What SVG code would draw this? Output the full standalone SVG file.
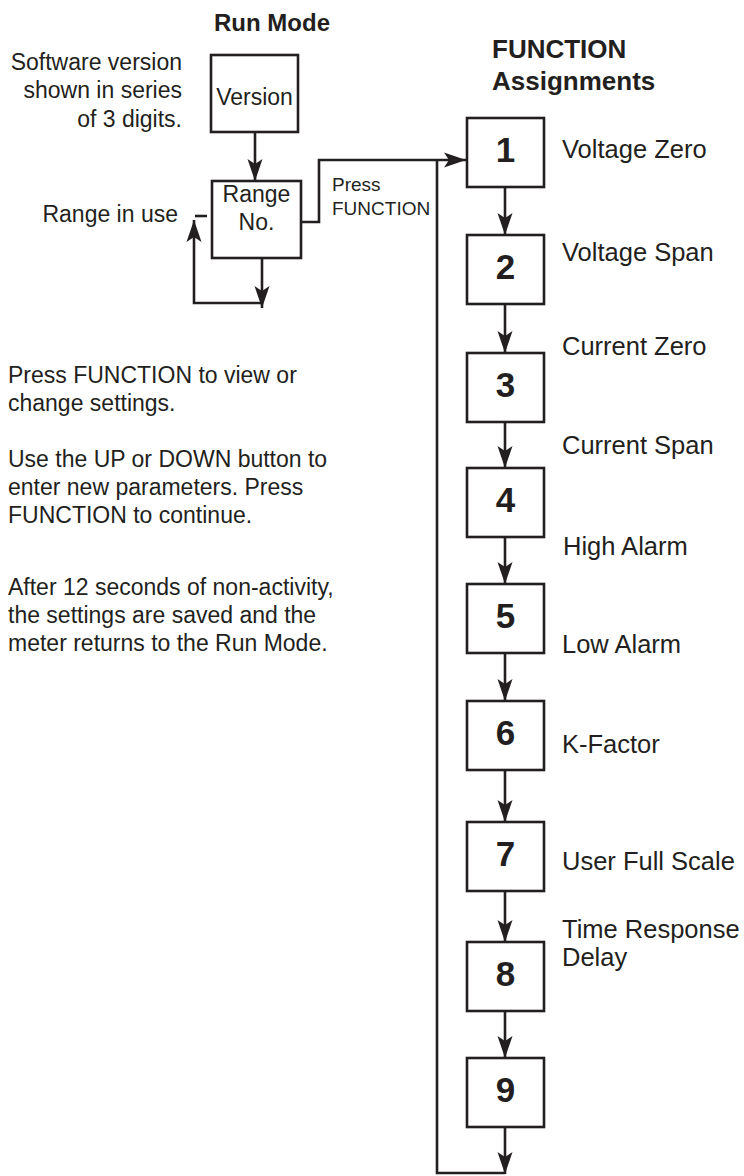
<svg xmlns="http://www.w3.org/2000/svg" width="744" height="1176" viewBox="0 0 744 1176">
<style>
text{font-family:"Liberation Sans",Arial,Helvetica,sans-serif;fill:#231f20}
.t{font-size:23px}
.lab{font-size:25.5px}
.sm{font-size:19px}
.hd{font-size:24px;font-weight:bold}
.hd2{font-size:26px;font-weight:bold}
.num{font-size:35px;font-weight:bold;text-anchor:middle}
.box{fill:#fff;stroke:#231f20;stroke-width:2.6}
.ln{fill:none;stroke:#231f20;stroke-width:2.6}
</style>
<defs>
<marker id="ah" markerUnits="userSpaceOnUse" markerWidth="24" markerHeight="18" viewBox="-22 -9 24 18" refX="0" refY="0" orient="auto">
<path d="M0,0 L-22,-7.5 L-17,0 L-22,7.5 Z" fill="#231f20"/>
</marker>
</defs>
<g id="headers">
<text class="hd" x="214" y="31">Run Mode</text>
<text class="hd2" x="492" y="58">FUNCTION</text>
<text class="hd2" x="492" y="90">Assignments</text>
</g>
<g id="notes" class="t">
<text x="182" y="70" text-anchor="end">Software version</text>
<text x="182" y="98" text-anchor="end">shown in series</text>
<text x="182" y="127" text-anchor="end">of 3 digits.</text>
<text x="178" y="222" text-anchor="end">Range in use</text>
<text x="8" y="383">Press FUNCTION to view or</text>
<text x="8" y="411">change settings.</text>
<text x="8" y="467">Use the UP or DOWN button to</text>
<text x="8" y="495">enter new parameters. Press</text>
<text x="8" y="523">FUNCTION to continue.</text>
<text x="8" y="595">After 12 seconds of non-activity,</text>
<text x="8" y="623">the settings are saved and the</text>
<text x="8" y="651">meter returns to the Run Mode.</text>
</g>
<g id="press-label" class="sm">
<text x="332" y="191">Press</text>
<text x="332" y="215">FUNCTION</text>
</g>
<g id="version">
<rect class="box" x="211" y="55" width="87" height="77"/>
<text class="t" x="254.5" y="105" text-anchor="middle">Version</text>
</g>
<g id="range">
<rect class="box" x="212" y="181" width="89" height="77"/>
<text class="t" x="256.5" y="202" text-anchor="middle">Range</text>
<text class="t" x="256.5" y="230" text-anchor="middle">No.</text>
</g>
<g id="f1"><rect class="box" x="467" y="118" width="77" height="69"/><text class="num" x="505.5" y="162">1</text></g>
<g id="f2"><rect class="box" x="467" y="235" width="77" height="69"/><text class="num" x="505.5" y="279">2</text></g>
<g id="f3"><rect class="box" x="467" y="353" width="77" height="69"/><text class="num" x="505.5" y="397">3</text></g>
<g id="f4"><rect class="box" x="467" y="468" width="77" height="69"/><text class="num" x="505.5" y="512">4</text></g>
<g id="f5"><rect class="box" x="467" y="584" width="77" height="69"/><text class="num" x="505.5" y="628">5</text></g>
<g id="f6"><rect class="box" x="467" y="701" width="77" height="69"/><text class="num" x="505.5" y="745">6</text></g>
<g id="f7"><rect class="box" x="467" y="822" width="77" height="69"/><text class="num" x="505.5" y="866">7</text></g>
<g id="f8"><rect class="box" x="467" y="942" width="77" height="69"/><text class="num" x="505.5" y="986">8</text></g>
<g id="f9"><rect class="box" x="467" y="1058" width="77" height="69"/><text class="num" x="505.5" y="1102">9</text></g>
<g id="labels" class="lab">
<text x="562" y="158">Voltage Zero</text>
<text x="562" y="261">Voltage Span</text>
<text x="562" y="355">Current Zero</text>
<text x="562" y="454">Current Span</text>
<text x="563" y="555">High Alarm</text>
<text x="562" y="653">Low Alarm</text>
<text x="562" y="753">K-Factor</text>
<text x="562" y="870">User Full Scale</text>
<text x="562" y="938">Time Response</text>
<text x="562" y="966">Delay</text>
</g>
<g id="connectors">
<line class="ln" x1="255" y1="132" x2="255" y2="181" marker-end="url(#ah)"/>
<line class="ln" x1="195" y1="216" x2="207" y2="216"/>
<path class="ln" d="M262,303 H194 V220" marker-end="url(#ah)"/>
<line class="ln" x1="262" y1="258" x2="262" y2="308" marker-end="url(#ah)"/>
<path class="ln" d="M301,222 H319 V160 H466" marker-end="url(#ah)"/>
<path class="ln" d="M437,160 V1173 H505"/>
<line class="ln" x1="505" y1="187" x2="505" y2="235" marker-end="url(#ah)"/>
<line class="ln" x1="505" y1="304" x2="505" y2="353" marker-end="url(#ah)"/>
<line class="ln" x1="505" y1="422" x2="505" y2="468" marker-end="url(#ah)"/>
<line class="ln" x1="505" y1="537" x2="505" y2="584" marker-end="url(#ah)"/>
<line class="ln" x1="505" y1="653" x2="505" y2="701" marker-end="url(#ah)"/>
<line class="ln" x1="505" y1="770" x2="505" y2="822" marker-end="url(#ah)"/>
<line class="ln" x1="505" y1="891" x2="505" y2="942" marker-end="url(#ah)"/>
<line class="ln" x1="505" y1="1011" x2="505" y2="1058" marker-end="url(#ah)"/>
<line class="ln" x1="505" y1="1127" x2="505" y2="1174" marker-end="url(#ah)"/>
</g>
</svg>
